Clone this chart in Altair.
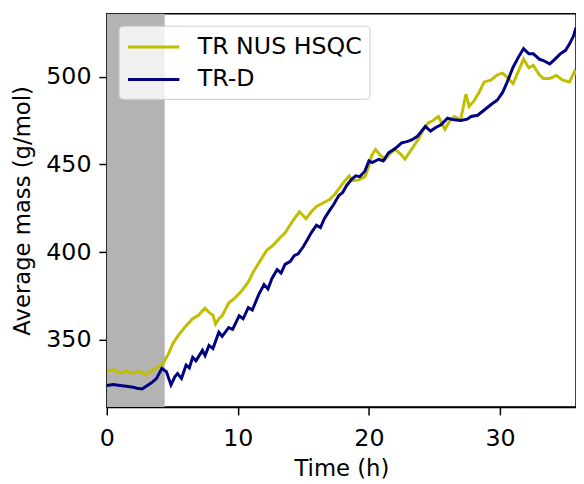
import altair as alt
import pandas as pd

# TR NUS HSQC (yellow)
hsqc_t = [0, 0.5, 1.0, 1.5, 2.0, 2.5, 3.0, 3.3, 3.8, 4.3, 4.7, 5.05, 5.5, 6.05, 6.55, 7.0, 7.3, 7.5, 7.8,
          8.1, 8.3, 8.55, 8.8, 9.1, 9.3, 9.8, 10.3, 10.8, 11.2, 11.7, 12.2, 12.7, 13.2, 13.6, 13.95, 14.3,
          14.7, 15.2, 15.6, 16.0, 16.5, 17.0, 17.4, 17.7, 18.1, 18.5, 18.7, 19.2, 19.7, 20.0, 20.2, 20.5,
          20.9, 21.25, 21.6, 22.0, 22.4, 22.75, 23.2, 23.75, 24.1, 24.5, 24.9, 25.3, 25.8, 26.1, 26.5,
          27.0, 27.4, 27.65, 28.0, 28.4, 28.8, 29.3, 29.8, 30.2, 30.5, 31.0, 31.4, 31.8, 32.2, 32.55,
          33.0, 33.3, 33.8, 34.3, 34.8, 35.3, 35.7, 35.9]
hsqc_v = [332, 333, 331, 332, 331, 332, 330, 332, 334, 336.5, 342, 348, 353, 358, 362, 364, 366.5, 368, 365.6,
          364, 359, 362, 363.7, 368, 371, 374, 378, 383, 389, 395, 401, 404, 408, 411, 415, 419,
          423, 419, 423, 426, 428, 430, 433, 436, 440, 443.5, 440.7, 441, 443, 449, 455, 458.5,
          455, 453, 456, 458.5, 456, 453, 458, 464, 469, 473.5, 475, 477.3, 470, 474, 477.3,
          475.4, 490, 483, 486, 491, 497, 498, 501, 502, 500, 496, 503, 510, 505, 506.4,
          501, 499, 499, 500.7, 498, 497, 503, 501]

# TR-D (navy)
trd_t = [0, 0.5, 1.0, 1.5, 2.0, 2.3, 2.7, 3.0, 3.3, 3.5, 3.8, 4.2, 4.55, 4.9, 5.2, 5.4, 5.7, 6.05, 6.3,
         6.55, 6.8, 7.3, 7.5, 7.8, 8.1, 8.55, 8.8, 9.3, 9.6, 10.1, 10.4, 10.8, 11.1, 11.6, 12.0, 12.3,
         12.6, 13.0, 13.3, 13.6, 14.0, 14.3, 14.6, 15.0, 15.3, 15.6, 16.0, 16.3, 16.6, 17.0, 17.3, 17.7,
         18.0, 18.3, 18.7, 19.0, 19.3, 19.7, 20.0, 20.25, 20.75, 21.1, 21.5, 22.0, 22.5, 22.9, 23.3,
         23.7, 24.3, 24.7, 25.1, 25.5, 26.0, 26.5, 27.0, 27.5, 27.8, 28.3, 28.8, 29.3, 29.8, 30.2,
         30.5, 31.0, 31.4, 31.8, 32.2, 32.55, 33.0, 33.3, 33.8, 34.2, 34.6, 35.0, 35.3, 35.6, 35.8]
trd_v = [324, 324.5, 324, 323.5, 323, 322.4, 322, 323.5, 325, 326, 328, 333.7, 331.8, 324.3, 329, 330.8, 328,
         335.6, 334, 340, 338, 344, 341, 346.8, 345, 354.3, 352, 357, 356, 363.7, 362, 368.4, 367, 375.9,
         381.5, 379, 385, 390, 388, 393, 394.7, 398, 399, 403.2, 407, 411, 415.3, 414, 419, 423.8, 427,
         432.2, 434, 438, 441.6, 443.5, 443, 446.3, 452, 451, 452.9, 452, 456.6, 459, 462.3, 463, 464.1,
         466, 471.6, 469, 471, 472.6, 476.3, 475.4, 475, 475.8, 477.3, 478, 481, 484, 486.7, 491,
         496, 505.4, 511, 516, 513, 513, 510, 509.2, 507.3, 510, 513, 515, 518.6, 523, 527.9]

series_names = ["TR NUS HSQC", "TR-D"]
series_colors = ["#bfbf00", "#000080"]

span_start = [0.0]
span_end = [4.42]

df = pd.concat([
    pd.DataFrame({"t": hsqc_t, "v": hsqc_v, "s": series_names[0]}),
    pd.DataFrame({"t": trd_t, "v": trd_v, "s": series_names[1]}),
])
span_df = pd.DataFrame({"a": span_start, "b": span_end})

FONT = "DejaVu Sans"
xdom = [0, 35.8]
ydom = [311.7, 535.8]

xscale = alt.Scale(domain=xdom, nice=False, zero=False)
yscale = alt.Scale(domain=ydom, nice=False, zero=False)

span = alt.Chart(span_df).mark_rect(color="#b3b3b3").encode(
    x=alt.X("a:Q", scale=xscale),
    x2="b:Q",
)

lines = alt.Chart(df).mark_line(strokeWidth=3, clip=True).encode(
    x=alt.X("t:Q", scale=xscale, title="Time (h)",
            axis=alt.Axis(values=[0, 10, 20, 30], grid=False, labelFlush=False)),
    y=alt.Y("v:Q", scale=yscale, title="Average mass (g/mol)",
            axis=alt.Axis(values=[350, 400, 450, 500], grid=False, labelFlush=False)),
    color=alt.Color("s:N", scale=alt.Scale(domain=series_names, range=series_colors),
                    sort=series_names,
                    legend=alt.Legend(title=None, orient="none", legendX=12, legendY=12,
                                      symbolType="M-2,0L2,0", symbolSize=676,
                                      symbolStrokeWidth=3, symbolOffset=14,
                                      labelOffset=30, labelFontSize=24, labelFont=FONT,
                                      labelColor="#000000", labelLimit=400,
                                      rowPadding=6, padding=7,
                                      fillColor="rgba(255,255,255,0.8)",
                                      strokeColor="#cccccc", cornerRadius=4)),
)

chart = alt.layer(span, lines).properties(
    width=475, height=398,
    padding={"left": 100, "top": 3, "right": 0, "bottom": 74},
    autosize=alt.AutoSizeParams(type="none"),
).configure_view(
    stroke="#000000", strokeWidth=1.5
).configure_axis(
    labelFont=FONT, titleFont=FONT, labelFontSize=24, titleFontSize=23,
    labelColor="#000000", titleColor="#000000", titleFontWeight="normal",
    domainColor="#000000", tickColor="#000000", tickSize=8, tickWidth=1.5, domainWidth=1.5,
).configure_axisY(titlePadding=11, labelPadding=8).configure_axisX(titlePadding=7, labelPadding=12)

chart.save("out.html", embed_options={"renderer": "svg", "actions": False})
